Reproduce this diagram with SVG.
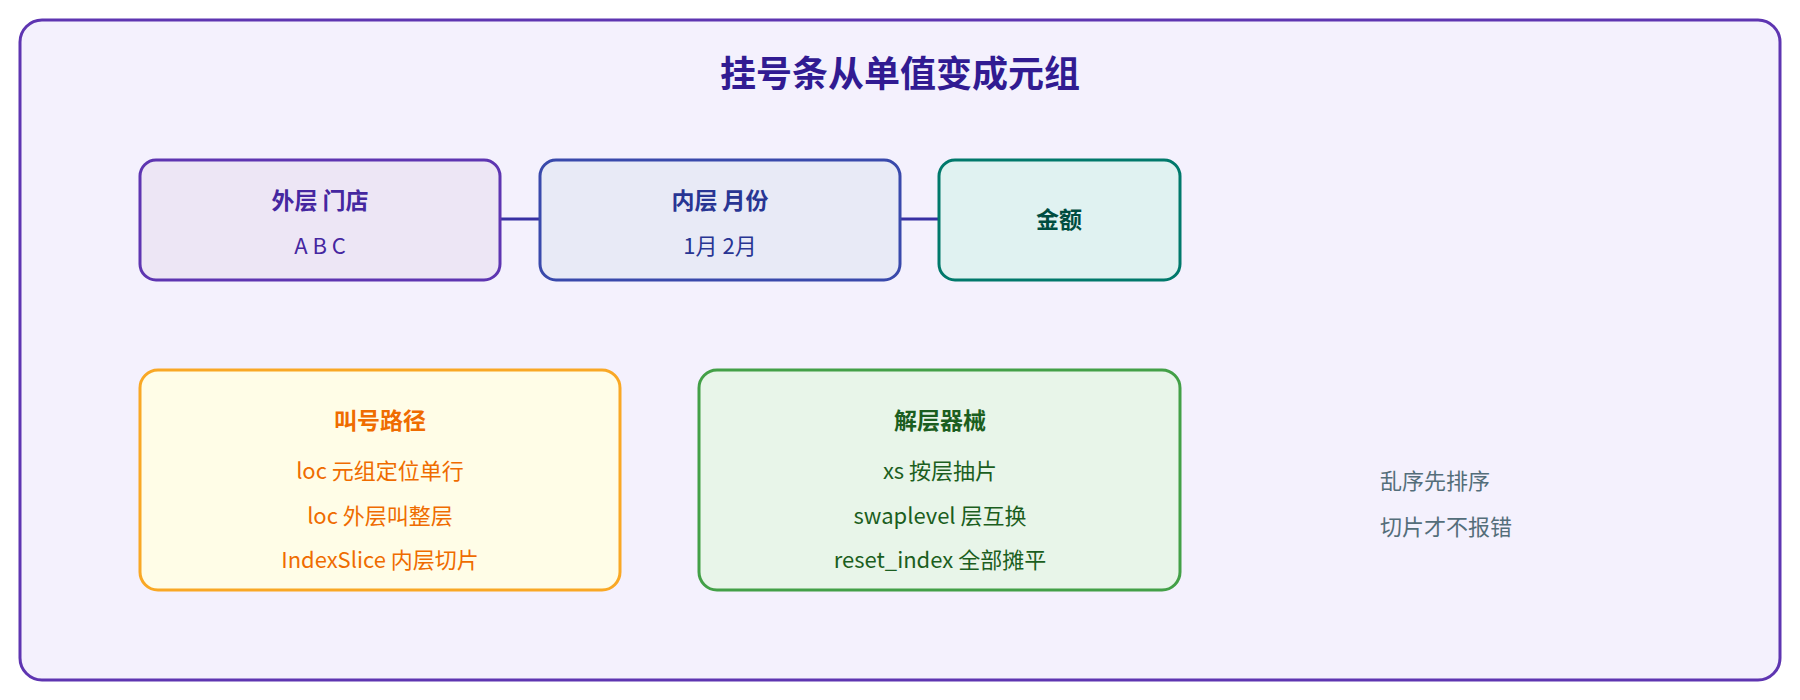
<svg xmlns="http://www.w3.org/2000/svg" width="1800" height="700" viewBox="0 0 1800 700">
<style>
text{font-family:"Noto Sans CJK SC","Noto Sans",sans-serif;text-anchor:middle;dominant-baseline:middle}
.h{font-weight:bold;font-size:23px}
.t{font-size:22px}
.box{stroke-width:3}
</style>
<rect x="20" y="20" width="1760" height="660" rx="22" fill="#f4f1fd" stroke="#5e35b1" stroke-width="3"/>
<text x="900" y="77" font-size="36" font-weight="bold" fill="#311b92">挂号条从单值变成元组</text>
<g id="connectors" stroke="#3730a3" stroke-width="3">
<line x1="500" y1="219" x2="540" y2="219"/>
<line x1="900" y1="219" x2="939" y2="219"/>
</g>
<g id="outer">
<rect class="box" x="140" y="160" width="360" height="120" rx="16" fill="#ede6f5" stroke="#5e35b1"/>
<text class="h" x="320" y="203" fill="#4527a0">外层 门店</text>
<text class="t" x="320" y="248" fill="#4527a0">A B C</text>
</g>
<g id="inner">
<rect class="box" x="540" y="160" width="360" height="120" rx="16" fill="#e8eaf6" stroke="#3949ab"/>
<text class="h" x="720" y="203" fill="#283593">内层 月份</text>
<text class="t" x="720" y="248" fill="#283593">1月 2月</text>
</g>
<g id="amount">
<rect class="box" x="939" y="160" width="241" height="120" rx="16" fill="#e0f2f1" stroke="#00796b"/>
<text class="h" x="1059" y="222" fill="#004d40">金额</text>
</g>
<g id="path">
<rect class="box" x="140" y="370" width="480" height="220" rx="18" fill="#fffde7" stroke="#f9a825"/>
<text class="h" x="380" y="423" fill="#ef6c00">叫号路径</text>
<text class="t" x="380" y="473" fill="#ef6c00">loc 元组定位单行</text>
<text class="t" x="380" y="518" fill="#ef6c00">loc 外层叫整层</text>
<text class="t" x="380" y="562" fill="#ef6c00">IndexSlice 内层切片</text>
</g>
<g id="tools">
<rect class="box" x="699" y="370" width="481" height="220" rx="18" fill="#e8f5e9" stroke="#43a047"/>
<text class="h" x="940" y="423" fill="#1b5e20">解层器械</text>
<text class="t" x="940" y="473" fill="#1b5e20">xs 按层抽片</text>
<text class="t" x="940" y="518" fill="#1b5e20">swaplevel 层互换</text>
<text class="t" x="940" y="562" fill="#1b5e20">reset_index 全部摊平</text>
</g>
<g id="note">
<text class="t" x="1380" y="483" fill="#546e7a" style="text-anchor:start">乱序先排序</text>
<text class="t" x="1380" y="529" fill="#546e7a" style="text-anchor:start">切片才不报错</text>
</g>
</svg>
